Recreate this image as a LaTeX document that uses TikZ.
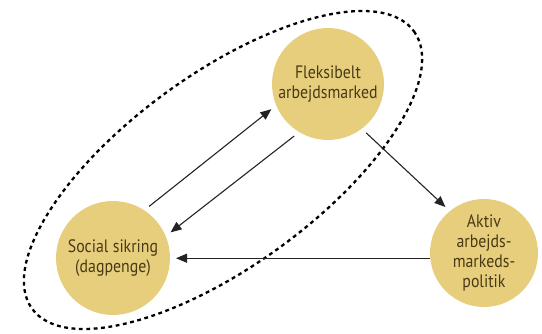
\documentclass[tikz,border=0pt]{standalone}
\usepackage{fontspec}
\setmainfont{PT Sans}[FakeStretch=0.88]
\usetikzlibrary{arrows.meta}
\definecolor{discfill}{RGB}{230,206,125}
\definecolor{disctext}{RGB}{72,58,20}
\definecolor{linecol}{RGB}{35,35,35}
\tikzset{
  disc/.style={circle, fill=discfill, draw=none, inner sep=0pt, outer sep=6pt,
    align=center, text=disctext, font=\fontsize{18}{20}\selectfont},
  link/.style={draw=linecol, line width=1.1pt, -{Triangle[length=11pt,width=9pt]}},
  group/.style={draw=black, line width=2.3pt, dash pattern=on 3.8pt off 3.6pt}
}
\begin{document}
\begin{tikzpicture}[x=1pt,y=-1pt]
\useasboundingbox (0,0) rectangle (542,334);
\draw[group, rotate around={36:(223,170)}] (223,170) ellipse [x radius=236, y radius=96];
\node[disc, minimum size=112pt] (fl) at (328,84) {Fleksibelt\\arbejdsmarked};
\node[disc, minimum size=114pt] (soc) at (113,258) {Social sikring\\(dagpenge)};
\node[disc, minimum size=108pt] (ak) at (484,253) {Aktiv\\arbejds-\\markeds-\\politik};
\draw[link] (soc.55) -- (fl.204);
\draw[link] (fl.237) -- (soc.24);
\draw[link] (fl.-52) -- (ak.130);
\draw[link, shorten <=-6pt] (ak.185) -- (ak.185 -| soc.east);
\end{tikzpicture}
\end{document}
